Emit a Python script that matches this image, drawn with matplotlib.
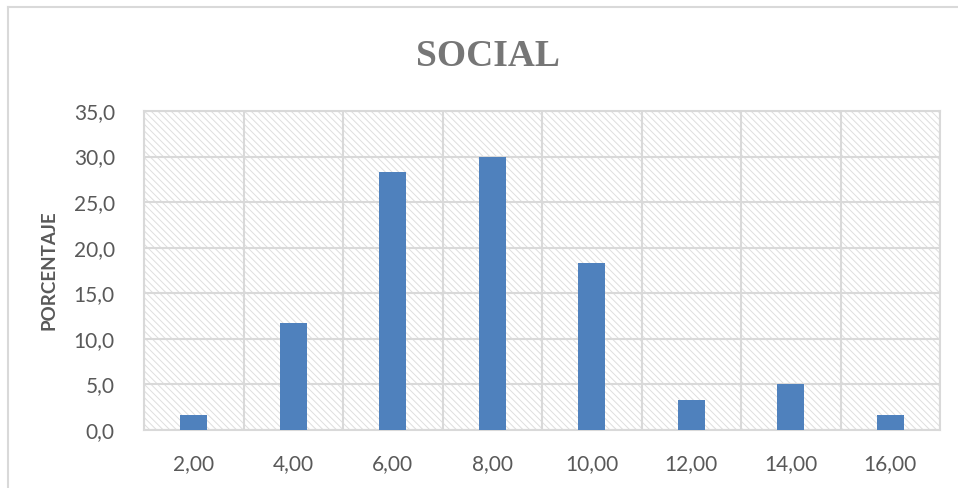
import matplotlib
matplotlib.use("Agg")
import matplotlib.pyplot as plt
from matplotlib.patches import Rectangle
from matplotlib.ticker import FixedLocator
import numpy as np

# puntajes de la dimension social y porcentaje de casos
categorias = ["2,00", "4,00", "6,00", "8,00", "10,00", "12,00", "14,00", "16,00"]
porcentajes = [1.7, 11.7, 28.3, 30.0, 18.3, 3.3, 5.0, 1.7]
y_ticks = [0, 5, 10, 15, 20, 25, 30, 35]

plt.rcParams['hatch.linewidth'] = 0.7
plt.rcParams['font.family'] = ['Lato', 'DejaVu Sans']

fig = plt.figure(figsize=(9.58, 4.88), dpi=100)

# marco exterior del grafico (solo se ven borde superior e izquierdo)
fig.add_artist(plt.Line2D([8/958, 1], [1-7/488, 1-7/488], color='#d9d9d9', lw=1.5))
fig.add_artist(plt.Line2D([8/958, 8/958], [0, 1-7/488], color='#d9d9d9', lw=1.5))

ax = fig.add_axes([144/958, 1-430/488, (940-144)/958, (430-111)/488])

# fondo rayado del area de trazado
fondo = Rectangle((0, 0), 1, 1, transform=ax.transAxes, facecolor='white',
                  edgecolor='#dedede', hatch='\\\\\\\\\\', lw=0, zorder=0)
ax.add_patch(fondo)
ax.patch.set_visible(False)

x = np.arange(len(categorias))
ax.bar(x, porcentajes, width=0.27, color='#4f81bd', zorder=3)

ax.set_xlim(-0.5, len(categorias) - 0.5)
ax.set_ylim(0, 35)
ax.set_yticks(y_ticks)
ax.set_yticklabels([f"{v:.1f}".replace('.', ',') for v in y_ticks])
ax.set_xticks(x)
ax.set_xticklabels(categorias)
ax.xaxis.set_minor_locator(FixedLocator(np.arange(-0.5, len(categorias), 1.0)))

ax.grid(axis='y', which='major', color='#d9d9d9', lw=1.5, zorder=1)
ax.grid(axis='x', which='minor', color='#d9d9d9', lw=1.5, zorder=1)
ax.set_axisbelow(True)

for s in ax.spines.values():
    s.set_color('#d9d9d9')
    s.set_linewidth(1.5)

ax.tick_params(which='both', length=0)
ax.tick_params(axis='y', pad=21, labelsize=15, labelcolor='#595959')
ax.tick_params(axis='x', pad=17, labelsize=15, labelcolor='#595959')

ax.set_ylabel("PORCENTAJE", fontsize=13.5, fontweight='bold', color='#595959', labelpad=12)

fig.text(488/958, 1-56/488, "SOCIAL", ha='center', va='center', fontsize=27,
         fontweight='bold', color='#767676', family=['Liberation Serif', 'DejaVu Serif'])

fig.savefig("out.png", dpi=100)
